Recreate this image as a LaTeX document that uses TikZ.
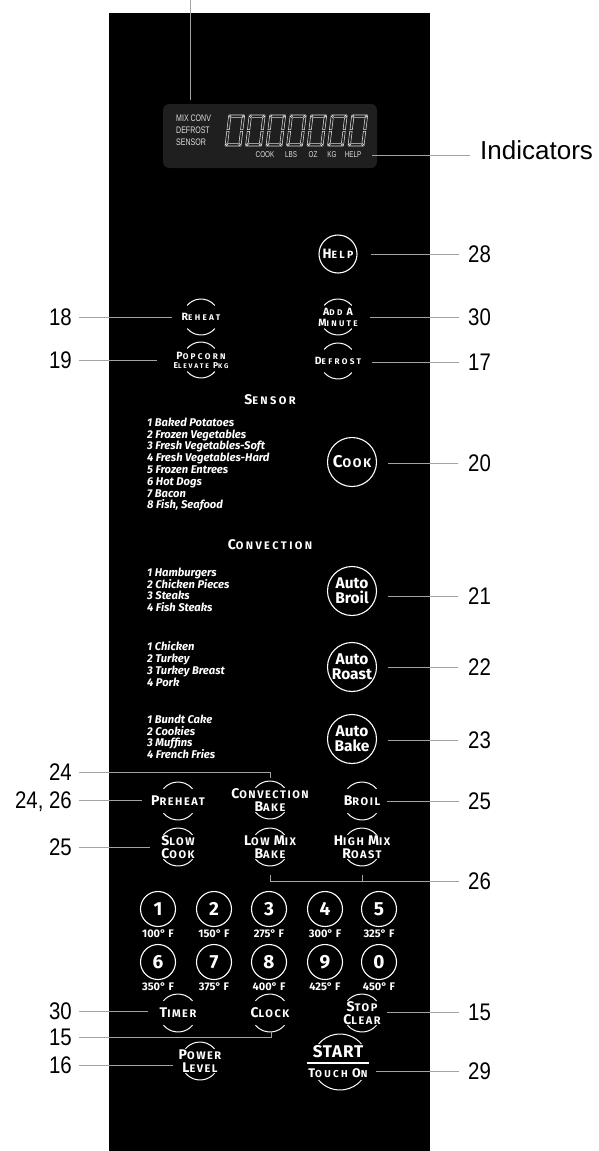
\documentclass[tikz,border=0pt]{standalone}
\usepackage{fontspec}
\setmainfont{Liberation Sans}
\newfontfamily\btnA{Fira Sans}[LetterSpace=28]
\newfontfamily\btnB{Fira Sans}[LetterSpace=14]
\newfontfamily\btnH{Fira Sans}[LetterSpace=22]
\newfontfamily\startfont{Fira Sans}[LetterSpace=5]
\newfontfamily\plainfira{Fira Sans}
\newfontfamily\dispfont{Liberation Sans}[FakeStretch=0.74]
\newfontfamily\numfont{Liberation Sans}[FakeStretch=0.85]
\definecolor{leadgray}{HTML}{A3A3A3}
\definecolor{dispgray}{HTML}{1F1F1F}
\newcommand\upc[2]{{\fontsize{10.5}{12}\selectfont #1}{\fontsize{8.2}{12}\selectfont #2}}
\newcommand\upcS[2]{{\fontsize{8.5}{10}\selectfont #1}{\fontsize{6.7}{10}\selectfont #2}}
\newcommand\loc[2]{{\fontsize{14}{13}\selectfont #1}{\fontsize{11}{13}\selectfont #2}}
\newcommand\tchc[2]{{\fontsize{12.5}{13}\selectfont #1}{\fontsize{10}{13}\selectfont #2}}
\newcommand\softarcs[2]{%
  \draw[btnarc] (#1.center) ++(40:#2) arc[start angle=40,end angle=140,radius=#2];
  \draw[btnarc] (#1.center) ++(220:#2) arc[start angle=220,end angle=320,radius=#2];}
\tikzset{
  leader/.style={draw=leadgray, line width=0.9pt},
  lbl/.style={font=\numfont\fontsize{24}{24}\selectfont, text=black, inner sep=0pt, text depth=0pt},
  btntxt/.style={text=white, font=\btnA\bfseries\fontsize{8.2}{11}\selectfont, align=center, inner sep=0pt},
  btntxtL/.style={text=white, font=\btnB\bfseries\fontsize{11}{13}\selectfont, align=center, inner sep=0pt},
  headtxt/.style={text=white, font=\btnH\bfseries\fontsize{11}{13}\selectfont, align=center, inner sep=0pt},
  btnarc/.style={draw=white, line width=1pt},
  ringbtn/.style={circle, draw=white, line width=1.1pt, text=white, inner sep=0pt, align=center},
  autobtn/.style={ringbtn, minimum size=49pt, font=\plainfira\bfseries\fontsize{15.5}{15}\selectfont},
  numbtn/.style={ringbtn, minimum size=35pt, font=\plainfira\bfseries\fontsize{19}{18}\selectfont},
  listtxt/.style={text=white, font=\plainfira\bfseries\itshape\fontsize{11.2}{11.8}\selectfont, align=left, inner sep=0pt, anchor=north west},
  temp/.style={text=white, font=\plainfira\bfseries\fontsize{11}{10}\selectfont, inner sep=0pt},
  seg/.style={draw=white!88!black, line width=0.55pt},
  disptxt/.style={text=white!88!black, font=\dispfont\fontsize{9.5}{12}\selectfont, inner sep=0pt, align=left},
  dispsmall/.style={text=white!88!black, font=\dispfont\fontsize{8.5}{9}\selectfont, inner sep=0pt},
}
\begin{document}
\begin{tikzpicture}[x=1pt,y=1pt]
\useasboundingbox (0,0) rectangle (598,-1151);
\node[fill=black, inner sep=0pt, minimum width=321pt, minimum height=1138pt, anchor=north west] (panel) at (109,-13) {};

% display
\node[fill=dispgray, rounded corners=6pt, minimum width=214pt, minimum height=64pt, inner sep=0pt] (display) at (270,-136) {};
\node[disptxt, anchor=north west] (dmodes) at (176,-114.5) {MIX CONV\\DEFROST\\SENSOR};
\foreach \i in {0,...,6} {
  \begin{scope}[shift={(225+\i*20.5,-146)}, xslant=0.12]
    \draw[seg] (0.8,31) -- (15.2,31) -- (12.8,28.6) -- (3.2,28.6) -- cycle;
    \draw[seg] (0.8,0) -- (15.2,0) -- (12.8,2.4) -- (3.2,2.4) -- cycle;
    \draw[seg] (0,30.2) -- (2.4,27.8) -- (2.4,16.3) -- (0,16.3) -- cycle;
    \draw[seg] (0,0.8) -- (2.4,3.2) -- (2.4,14.7) -- (0,14.7) -- cycle;
    \draw[seg] (16,30.2) -- (13.6,27.8) -- (13.6,16.3) -- (16,16.3) -- cycle;
    \draw[seg] (16,0.8) -- (13.6,3.2) -- (13.6,14.7) -- (16,14.7) -- cycle;
  \end{scope}
}
\node[dispsmall] (dcook) at (265,-155) {COOK};
\node[dispsmall] (dlbs) at (291,-155) {LBS};
\node[dispsmall] (doz) at (313,-155) {OZ};
\node[dispsmall] (dkg) at (332,-155) {KG};
\node[dispsmall] (dhelp) at (353,-155) {HELP};

% top buttons
\node[ringbtn, minimum size=38pt, font=\btnH\bfseries] (help) at (338,-254) {{\fontsize{13.5}{13}\selectfont H}{\fontsize{10.5}{13}\selectfont ELP}};
\node[btntxt] (reheat) at (201,-317) {\upc{R}{EHEAT}};
\softarcs{reheat}{18}
\node[btntxt] (addmin) at (338,-317) {\upc{A}{DD} \upc{A}{}\\\upc{M}{INUTE}};
\softarcs{addmin}{18}
\node[btntxt] (popcorn) at (201,-360) {\upc{P}{OPCORN}\\[-2pt]\upcS{E}{LEVATE} \upcS{P}{KG}};
\softarcs{popcorn}{18}
\node[btntxt] (defrost) at (338,-361) {\upc{D}{EFROST}};
\softarcs{defrost}{18}

% sensor
\node[headtxt] (hsensor) at (270,-400) {\loc{S}{ENSOR}};
\node[listtxt] (list1) at (147,-417.5) {1 Baked Potatoes\\2 Frozen Vegetables\\3 Fresh Vegetables-Soft\\4 Fresh Vegetables-Hard\\5 Frozen Entrees\\6 Hot Dogs\\7 Bacon\\8 Fish, Seafood};
\node[ringbtn, minimum size=49pt, font=\btnB\bfseries] (cook) at (352,-462) {{\fontsize{17}{14}\selectfont C}{\fontsize{12.5}{14}\selectfont OOK}};

% convection
\node[headtxt] (hconv) at (270,-545) {\loc{C}{ONVECTION}};
\node[listtxt] (list2) at (147,-567.5) {1 Hamburgers\\2 Chicken Pieces\\3 Steaks\\4 Fish Steaks};
\node[autobtn] (abroil) at (352,-591) {Auto\\Broil};
\node[listtxt] (list3) at (147,-641.5) {1 Chicken\\2 Turkey\\3 Turkey Breast\\4 Pork};
\node[autobtn] (aroast) at (352,-667) {Auto\\Roast};
\node[listtxt] (list4) at (147,-714.5) {1 Bundt Cake\\2 Cookies\\3 Muffins\\4 French Fries};
\node[autobtn] (abake) at (352,-739) {Auto\\Bake};

\node[btntxtL] (preheat) at (178,-801) {\loc{P}{REHEAT}};
\softarcs{preheat}{19}
\node[btntxtL] (convbake) at (270,-800) {\loc{C}{ONVECTION}\\\loc{B}{AKE}};
\softarcs{convbake}{19}
\node[btntxtL] (broil) at (362,-801) {\loc{B}{ROIL}};
\softarcs{broil}{19}
\node[btntxtL] (slowcook) at (178,-847) {\loc{S}{LOW}\\\loc{C}{OOK}};
\softarcs{slowcook}{19}
\node[btntxtL] (lowmix) at (270,-847) {\loc{L}{OW} \loc{M}{IX}\\\loc{B}{AKE}};
\softarcs{lowmix}{19}
\node[btntxtL] (highmix) at (362,-847) {\loc{H}{IGH} \loc{M}{IX}\\\loc{R}{OAST}};
\softarcs{highmix}{19}

% number pad
\foreach \d/\x/\t in {1/158/100,2/214/150,3/269/275,4/325/300,5/379/325} {
  \node[numbtn] (n\d) at (\x,-909) {\d};
  \node[temp] (t\d) at (\x,-934) {\t° F};
}
\foreach \d/\x/\t in {6/158/350,7/214/375,8/269/400,9/325/425,0/379/450} {
  \node[numbtn] (n\d) at (\x,-962) {\d};
  \node[temp] (t\d) at (\x,-987) {\t° F};
}

\node[btntxtL] (timer) at (178,-1013) {\loc{T}{IMER}};
\softarcs{timer}{19}
\node[btntxtL] (clock) at (270,-1013) {\loc{C}{LOCK}};
\softarcs{clock}{19}
\node[btntxtL] (stopclear) at (362,-1013) {\loc{S}{TOP}\\\loc{C}{LEAR}};
\softarcs{stopclear}{19}
\node[btntxtL] (power) at (200,-1061) {\loc{P}{OWER}\\\loc{L}{EVEL}};
\softarcs{power}{19}
\coordinate (startc) at (340,-1062);
\softarcs{startc}{28}
\node[btntxt, font=\startfont\bfseries\fontsize{17}{15}\selectfont] (start) at (338,-1052) {START};
\draw[draw=white, line width=1.3pt] ([xshift=-33pt,yshift=-1pt]startc) -- ([xshift=29pt,yshift=-1pt]startc);
\node[btntxt, font=\btnH\bfseries\fontsize{10}{13}\selectfont] (touchon) at (338,-1073) {\tchc{T}{OUCH} \tchc{O}{N}};

% labels
\node[lbl, font=\fontsize{26}{26}\selectfont, anchor=west] (lind) at (480,-150) {Indicators};
\node[lbl, anchor=west] (l28) at (468,-254) {28};
\node[lbl, anchor=west] (l30r) at (468,-317) {30};
\node[lbl, anchor=west] (l17) at (468,-362) {17};
\node[lbl, anchor=west] (l20) at (468,-463) {20};
\node[lbl, anchor=west] (l21) at (468,-596) {21};
\node[lbl, anchor=west] (l22) at (468,-667) {22};
\node[lbl, anchor=west] (l23) at (468,-740) {23};
\node[lbl, anchor=west] (l25r) at (468,-801) {25};
\node[lbl, anchor=west] (l26) at (468,-881) {26};
\node[lbl, anchor=west] (l15r) at (468,-1012) {15};
\node[lbl, anchor=west] (l29) at (468,-1071) {29};
\node[lbl, anchor=east] (l18) at (72,-317) {18};
\node[lbl, anchor=east] (l19) at (72,-360) {19};
\node[lbl, anchor=east] (l24) at (72,-772) {24};
\node[lbl, anchor=east] (l2426) at (72,-800) {24, 26};
\node[lbl, anchor=east] (l25l) at (72,-847) {25};
\node[lbl, anchor=east] (l30l) at (72,-1011) {30};
\node[lbl, anchor=east] (l15l) at (72,-1037) {15};
\node[lbl, anchor=east] (l16) at (72,-1065) {16};

% leaders
\coordinate (topend) at (190,0);
\draw[leader] (topend) -- ([yshift=4pt]topend |- display.north);
\draw[leader] ([xshift=-10pt,yshift=-5pt]lind.west) -- ([xshift=11pt]dhelp.east |- dhelp.center);
\draw[leader] ([xshift=-9pt]l28.west) -- ([xshift=13pt]help.east |- l28.west);
\draw[leader] ([xshift=-9pt]l30r.west) -- ([xshift=32pt]addmin.center |- l30r.west);
\draw[leader] ([xshift=-9pt]l17.west) -- ([xshift=34pt]defrost.center |- l17.west);
\draw[leader] ([xshift=-10pt]l20.west) -- ([xshift=11pt]cook.east |- l20.west);
\draw[leader] ([xshift=-10pt]l21.west) -- ([xshift=11pt]abroil.east |- l21.west);
\draw[leader] ([xshift=-10pt]l22.west) -- ([xshift=11pt]aroast.east |- l22.west);
\draw[leader] ([xshift=-10pt]l23.west) -- ([xshift=11pt]abake.east |- l23.west);
\draw[leader] ([xshift=-9pt]l25r.west) -- ([xshift=25pt]broil.center |- l25r.west);
\draw[leader] ([yshift=-28pt]lowmix.center) |- ([xshift=-9pt]l26.west);
\draw[leader] ([yshift=-28pt]highmix.center) -- (highmix.center |- l26.west);
\draw[leader] ([xshift=-9pt]l15r.west) -- ([xshift=25pt]stopclear.center |- l15r.west);
\draw[leader] ([xshift=-9pt]l29.west) -- ([xshift=36pt]startc |- l29.west);
\draw[leader] ([xshift=7pt]l18.east) -- ([xshift=-29pt]reheat.center |- l18.east);
\draw[leader] ([xshift=7pt]l19.east) -- ([xshift=-44pt]popcorn.center |- l19.east);
\draw[leader] ([xshift=7pt]l24.east) -| ([yshift=22pt]convbake.center);
\draw[leader] ([xshift=7pt]l2426.east) -- ([xshift=-36pt]preheat.center |- l2426.east);
\draw[leader] ([xshift=7pt]l25l.east) -- ([xshift=-28pt]slowcook.center |- l25l.east);
\draw[leader] ([xshift=7pt]l30l.east) -- ([xshift=-30pt]timer.center |- l30l.east);
\draw[leader] ([xshift=7pt]l15l.east) -| ([xshift=1pt,yshift=-19pt]clock.center);
\draw[leader] ([xshift=7pt]l16.east) -- ([xshift=-27pt]power.center |- l16.east);
\end{tikzpicture}
\end{document}
